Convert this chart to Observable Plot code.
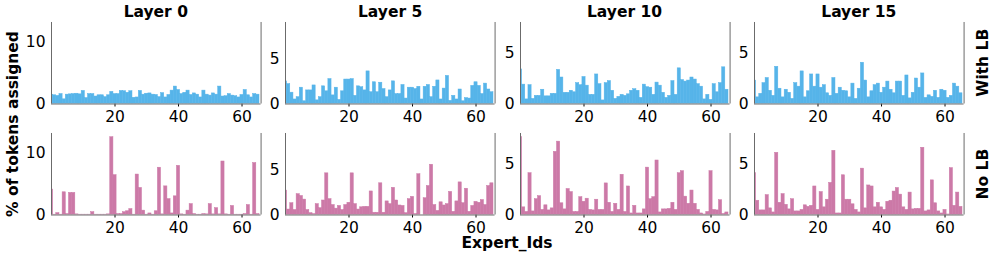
<!DOCTYPE html>
<html><head><meta charset="utf-8">
<script src="https://cdn.jsdelivr.net/npm/d3@7"></script>
<script src="https://cdn.jsdelivr.net/npm/@observablehq/plot@0.6"></script>
<style>
body{margin:0;background:#fff;}
#chart{position:relative;width:997px;height:257px;overflow:hidden;background:#fff;}
#chart svg{position:absolute;}
</style></head><body><div id="chart"></div>
<script>
// ---- data ----
const layers = ["Layer 0", "Layer 5", "Layer 10", "Layer 15"];
const rowNames = ["With LB", "No LB"];
const yMax = [13.1, 9, 8, 8];
const yTicks = [[0, 10], [0, 5], [0, 5], [0, 5]];
const xTicks = [20, 40, 60];
const xDomain = [0, 66];
const colors = ["#56B4E9", "#CC79A7"];

const withLB_L0 = [1.5,1.4,1.3,1.6,0.75,1.5,1.55,1.6,1.65,1.55, 2.1,0.95,1.6,1.6,1.2,1.4,1.4,1.1,1.4,1.95, 1.6,1.6,2.1,2.05,1.8,2.05,1.0,1.05,2.1,1.5, 1.65,1.7,1.5,1.45,1.1,1.75,1.05,1.45,2.15,2.8, 2.25,1.6,1.8,2.15,1.45,1.7,1.5,1.05,2.15,1.5, 1.35,1.7,1.5,2.8,1.2,1.25,1.6,1.35,1.25,1.05, 1.45,2.25,1.4,1.05,1.6,1.5];
const noLB_L0 = [4.1,0.05,0.3,0.05,3.65,0.15,3.55,3.55,0.1,0.05, 0.05,0.05,0.05,0.45,0.05,0.05,0.05,0.05,0.1,12.5, 6.4,0.15,0.15,0.45,0.6,0.95,0.05,6.5,4.35,0.7, 0.05,0.25,0.05,0.6,7.6,0.1,4.6,2.55,0.25,3.0, 7.9,0.1,0.05,0.7,1.75,0.15,0.05,0.05,0.15,0.1, 1.75,0.1,1.1,0.1,8.6,0.1,0.05,1.45,0.05,0.05, 0.05,0.15,1.6,0.05,8.35,0.15];
const withLB_L5 = [2.5,2.2,1.25,0.5,0.75,1.8,0.3,1.5,1.5,2.05, 0.4,0.75,1.95,1.4,2.75,0.95,1.8,0.45,1.4,2.7, 2.7,2.75,0.9,1.95,1.85,1.5,3.6,1.3,2.4,1.3, 2.35,1.65,0.75,1.5,2.5,1.1,1.1,2.1,0.6,1.8, 1.8,1.65,1.9,0.5,1.9,2.1,0.75,1.9,2.6,0.5, 1.7,3.1,0.35,0.9,0.5,1.6,0.3,0.65,0.6,2.0, 2.4,2.0,1.1,2.25,1.6,1.3];
const noLB_L5 = [2.7,0.6,1.3,0.55,2.3,2.1,1.7,0.55,0.2,0.1, 1.2,0.75,1.6,4.6,1.75,1.1,0.7,1.0,0.55,1.1, 1.35,4.6,1.2,0.6,0.85,0.9,0.9,2.6,0.25,0.25, 3.5,0.25,1.5,1.2,3.0,1.6,1.05,1.0,0.2,1.75, 2.0,0.1,4.5,0,1.85,3.2,5.55,1.1,0.45,1.4, 1.05,1.2,2.55,0.35,1.5,3.6,1.3,2.9,0.35,1.0, 1.45,1.35,1.65,1.1,3.2,3.5];
const withLB_L10 = [3.4,1.9,0.45,1.85,0.5,0.8,0.8,1.4,0.75,0.75, 1.0,1.0,3.35,2.6,1.1,1.1,1.3,1.15,2.05,1.85, 2.65,1.8,0.9,0.9,2.9,1.95,0.35,2.05,2.25,1.3, 0.5,0.7,0.9,0.8,0.95,1.3,1.45,1.3,0.6,1.9, 1.65,1.6,0.9,2.1,1.8,1.1,0.6,0.8,2.25,0.9, 3.5,2.35,2.2,2.3,2.6,2.4,1.95,1.7,0.45,0.9, 0.4,1.95,1.15,2.05,3.6,1.4];
const noLB_L10 = [7.65,0.75,0.3,4.1,0.35,1.55,1.85,0.5,0.95,0.45, 0.65,6.2,7.2,1.15,0.55,2.55,2.25,0.3,0.3,1.75, 1.3,1.6,0.5,0.45,1.5,0.5,0.5,3.1,1.2,0.3, 1.1,0.5,3.95,0.3,2.8,0.15,0.9,0.15,0.15,0.55, 4.65,1.55,1.75,5.35,0.25,0.55,0.55,0.6,1.2,0.5, 4.1,4.3,1.8,1.1,2.4,1.1,0.5,0.15,0.05,0.3, 4.3,0.5,0.45,1.45,0.1,0.25];
const withLB_L15 = [2.3,0.65,1.0,2.05,2.55,1.3,0.8,3.65,1.5,0.65, 1.4,1.1,0.5,2.05,1.7,3.2,0.65,1.25,2.9,1.7, 2.9,1.6,1.85,1.05,0.8,2.55,1.0,1.6,1.3,1.25, 0.65,2.0,0.5,1.5,4.05,2.3,0.65,1.25,1.85,2.0, 1.1,1.6,2.2,1.4,1.05,2.2,2.2,0.8,2.8,0.55, 1.1,2.5,1.6,3.0,0.6,0.85,0.7,1.3,0.6,1.4, 1.3,0.6,0.8,2.0,1.7,1.05];
const noLB_L15 = [4.1,1.4,0.45,0.45,1.95,0.65,0.25,6.1,1.2,2.05, 1.0,0.55,1.55,0.35,0.35,0.5,0.95,0.8,0.9,2.8, 0.5,2.25,0.75,1.5,3.15,6.3,0.15,0.15,3.9,1.5, 1.5,1.05,0.5,0.25,4.55,0.65,2.9,2.8,0.75,1.2, 0.75,0.5,1.3,1.4,2.3,2.65,2.0,0.75,0.5,2.2, 0.55,0.6,0.6,6.6,0.35,0.45,3.4,1.15,0.35,0.15, 0.5,0.05,4.6,0.9,2.2,0.8];

const series = [
  [withLB_L0, withLB_L5, withLB_L10, withLB_L15],
  [noLB_L0, noLB_L5, noLB_L10, noLB_L15]
];

// ---- layout ----
const panelLeft = [51, 285.3, 519.7, 754];
const panelWidth = 209.6;
const rowTop = [22, 133.3];
const panelHeight = 81.5;
const ML = 40, MR = 4, MT = 4, MB = 24;
const font = "'DejaVu Sans', sans-serif";

const chart = document.getElementById("chart");

for (let r = 0; r < 2; r++) {
  for (let c = 0; c < 4; c++) {
    const data = series[r][c].map((v, i) => ({id: i, v}));
    const svg = Plot.plot({
      width: ML + panelWidth + MR,
      height: MT + panelHeight + MB,
      marginLeft: ML, marginRight: MR, marginTop: MT, marginBottom: MB,
      style: {fontFamily: font, fontSize: "15.5px", color: "#000", background: "transparent", overflow: "visible"},
      x: {domain: xDomain, ticks: xTicks, tickSize: 3, tickPadding: 4.3, label: null},
      y: {domain: [0, yMax[c]], ticks: yTicks[c], tickSize: 0, tickPadding: 6, label: null},
      marks: [
        Plot.rectY(data, {x1: d => d.id - 0.5, x2: d => d.id + 0.5, y: "v", fill: colors[r],
          stroke: colors[r], strokeWidth: 0.5, inset: 0, clip: true}),
        Plot.ruleX(xDomain, {stroke: "#6a6a6a", strokeWidth: 1}),
        Plot.ruleY([0], {stroke: "#6a6a6a", strokeWidth: 1})
      ]
    });
    svg.style.left = (panelLeft[c] - ML) + "px";
    svg.style.top = (rowTop[r] - MT) + "px";
    chart.appendChild(svg);
  }
}

// ---- text labels ----
const ov = d3.select(chart).append("svg")
  .attr("width", 997).attr("height", 257)
  .style("left", "0px").style("top", "0px")
  .style("font-family", font).style("font-weight", "bold").style("font-size", "15.5px");

layers.forEach((name, c) => {
  ov.append("text").attr("x", panelLeft[c] + panelWidth / 2).attr("y", 16.7)
    .attr("text-anchor", "middle").text(name);
});
ov.append("text").attr("x", 507).attr("y", 248).attr("text-anchor", "middle").text("Expert_Ids");
ov.append("text").attr("transform", "translate(17.5,124) rotate(-90)").attr("text-anchor", "middle").text("% of tokens assigned");
rowNames.forEach((name, r) => {
  ov.append("text").attr("transform", `translate(988,${rowTop[r] + panelHeight / 2}) rotate(-90)`)
    .attr("text-anchor", "middle").text(name);
});
</script></body></html>
